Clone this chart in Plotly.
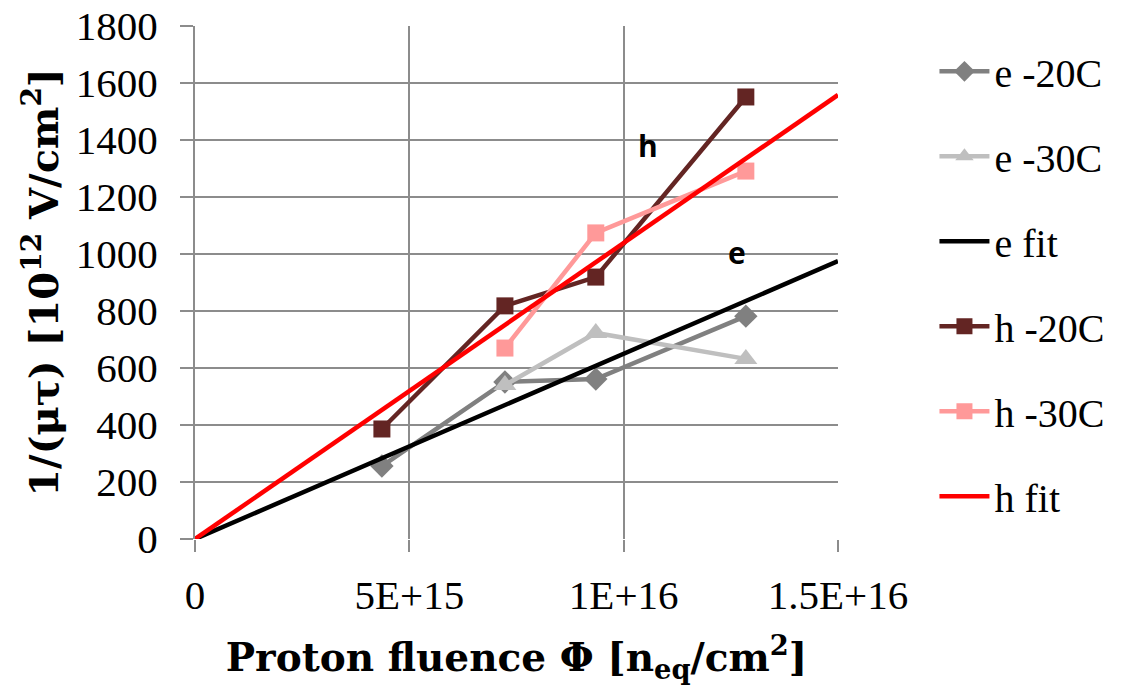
import plotly.graph_objects as go

fluence = [4.36e15, 7.23e15, 9.35e15, 1.285e16]
e_m20 = [256, 551, 561, 782]
fluence_30 = [7.23e15, 9.35e15, 1.285e16]
e_m30 = [540, 723, 632]
h_m20 = [386, 818, 919, 1551]
h_m30 = [670, 1074, 1291]
fit_x = [0, 1.5e16]
e_fit = [0, 975]
h_fit = [0, 1558]

FONT = "Liberation Serif"
TFONT = "DejaVu Serif"

fig = go.Figure()
fig.add_trace(go.Scatter(x=fluence, y=e_m20, name="e -20C", mode="lines+markers",
                         line=dict(color="#808080", width=4.5),
                         marker=dict(symbol="diamond", size=18, color="#808080"),
                         legendgroup="1"))
fig.add_trace(go.Scatter(x=fluence_30, y=e_m30, name="e -30C", mode="lines+markers",
                         line=dict(color="#bfbfbf", width=4.5),
                         marker=dict(symbol="triangle-up", size=20, color="#bfbfbf"),
                         legendgroup="2"))
fig.add_trace(go.Scatter(x=fit_x, y=e_fit, name="e fit", mode="lines",
                         line=dict(color="#000000", width=4.5), legendgroup="3"))
fig.add_trace(go.Scatter(x=fluence, y=h_m20, name="h -20C", mode="lines+markers",
                         line=dict(color="#632523", width=4.5),
                         marker=dict(symbol="square", size=17, color="#632523"),
                         legendgroup="4"))
fig.add_trace(go.Scatter(x=fluence_30, y=h_m30, name="h -30C", mode="lines+markers",
                         line=dict(color="#ff9999", width=4.5),
                         marker=dict(symbol="square", size=17, color="#ff9999"),
                         legendgroup="5"))
fig.add_trace(go.Scatter(x=fit_x, y=h_fit, name="h fit", mode="lines",
                         line=dict(color="#ff0000", width=4.5), legendgroup="6"))

fig.add_annotation(x=1.057e16, y=1382, text="<b>h</b>", showarrow=False,
                   font=dict(family="Open Sans", size=30, color="black"))
fig.add_annotation(x=1.264e16, y=1007, text="<b>e</b>", showarrow=False,
                   font=dict(family="Open Sans", size=30, color="black"))

fig.update_layout(
    width=1126, height=686,
    margin=dict(l=195, r=288, t=26, b=147),
    paper_bgcolor="white", plot_bgcolor="white",
    font=dict(family=FONT, size=41, color="black"),
    showlegend=True,
    legend=dict(x=1.15, y=0.975, xanchor="left", yanchor="top",
                font=dict(family=FONT, size=40, color="black"),
                traceorder="grouped", tracegroupgap=30, itemwidth=50,
                bgcolor="rgba(0,0,0,0)"),
    xaxis=dict(range=[0, 1.5e16], tickvals=[0, 5e15, 1e16, 1.5e16],
               ticktext=["0", "5E+15", "1E+16", "1.5E+16"],
               showgrid=True, gridcolor="#8c8c8c", gridwidth=2,
               zeroline=False, showline=False, automargin=False,
               ticks="outside", ticklen=12, tickwidth=1.5, tickcolor="#8c8c8c",
               tickfont=dict(size=41), ticklabelstandoff=8,
               title=dict(text="<b>Proton fluence Φ [n<sub>eq</sub>/cm<sup>2</sup>]</b>",
                          font=dict(family=TFONT, size=39), standoff=26)),
    yaxis=dict(range=[0, 1800], dtick=200,
               showgrid=True, gridcolor="#8c8c8c", gridwidth=2,
               zeroline=False, showline=True, linecolor="#8c8c8c", linewidth=2,
               automargin=False,
               ticks="outside", ticklen=13, tickwidth=1.5, tickcolor="#8c8c8c",
               tickfont=dict(size=41), ticklabelstandoff=14,
               title=dict(text="<b>1/(μτ) [10<sup>12</sup> V/cm<sup>2</sup>]</b>",
                          font=dict(family=TFONT, size=40), standoff=5)),
)

fig.write_html("out.html")
